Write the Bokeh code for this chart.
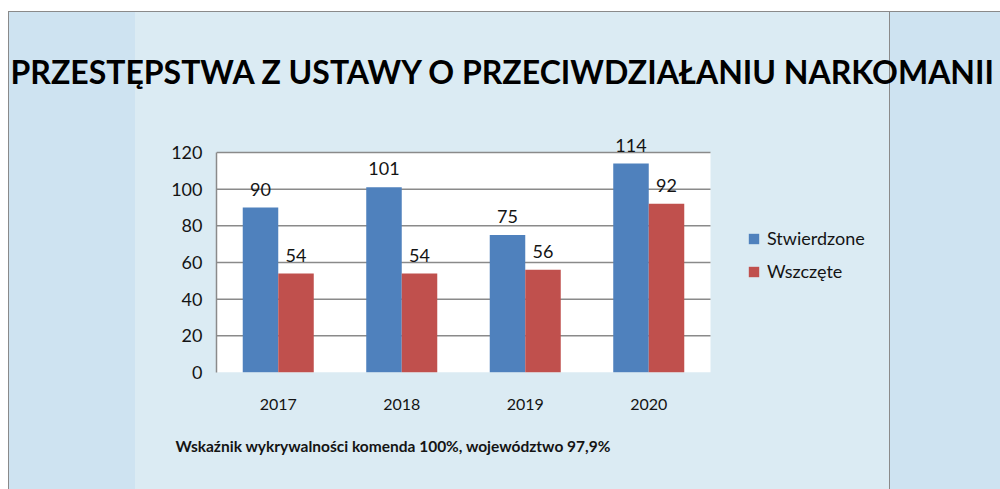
from bokeh.plotting import figure
from bokeh.models import (ColumnDataSource, Range1d, FixedTicker, LabelSet,
                          Legend, LegendItem, BoxAnnotation, Title)
from bokeh.core.properties import value
from bokeh.embed import file_html
from bokeh.resources import INLINE

# ---- data ----
years = ["2017", "2018", "2019", "2020"]
stwierdzone = [90, 101, 75, 114]
wszczete = [54, 54, 56, 92]
y_ticks = [0, 20, 40, 60, 80, 100, 120]
title_text = "PRZESTĘPSTWA Z USTAWY O PRZECIWDZIAŁANIU NARKOMANII"
footer_text = "Wskaźnik wykrywalności komenda 100%, województwo 97,9%"
series_names = ["Stwierdzone", "Wszczęte"]

FONT = "Lato"
BLUE = "#4f81bd"
RED = "#c0504d"
MID_BG = "#dbebf3"
SIDE_BG = "#cee3f1"
GRAY = "#8a8a8a"
TXT = "#141414"

W, H = 1000, 489
FL, FR, FT, FB = 216, 885, 96, 372      # plotting frame in page pixels
CAT_PX = 123.5                           # width of one year slot
PX_PER_UNIT = 220 / 120                  # 0..120 spans 220 px

n = len(years)
centers = [i + 0.5 for i in range(n)]
bw = 0.2875
src = ColumnDataSource(dict(
    xs=[c - bw / 2 for c in centers], xw=[c + bw / 2 for c in centers],
    s=stwierdzone, w=wszczete,
    s_lab=[str(v) for v in stwierdzone], w_lab=[str(v) for v in wszczete]))

p = figure(x_range=Range1d(0, (FR - FL) / CAT_PX), y_range=Range1d(0, (FB - FT) / PX_PER_UNIT),
           width=W, height=H, output_backend="svg", toolbar_location=None,
           min_border_left=FL, min_border_right=W - FR,
           min_border_top=FT, min_border_bottom=H - FB)
p.border_fill_alpha = 0
p.background_fill_alpha = 0
p.outline_line_color = None
p.styles = {"background": (
    "linear-gradient(to right, #ffffff 0px, #ffffff 8px, transparent 8px), "
    f"linear-gradient(to bottom, #ffffff 0px, #ffffff 11px, {GRAY} 11px, {GRAY} 12.5px, transparent 12.5px), "
    f"linear-gradient(to right, {GRAY} 8px, {GRAY} 9px, {SIDE_BG} 9px, {SIDE_BG} 135px, "
    f"{MID_BG} 135px, {MID_BG} 889px, {GRAY} 889px, {GRAY} 890px, {SIDE_BG} 890px)")}

# white plot area: categories 0..n, values 0..top tick
p.add_layout(BoxAnnotation(left=0, right=n, bottom=0, top=y_ticks[-1], fill_color="white",
                           fill_alpha=1, line_color=None, level="underlay"))

# horizontal gridlines across the category area only
grid_vals = y_ticks[1:]
p.segment(x0=[0] * len(grid_vals), x1=[n] * len(grid_vals),
          y0=grid_vals, y1=grid_vals, line_color=GRAY, line_width=1.5)

r1 = p.vbar(x="xs", top="s", width=bw, source=src, fill_color=BLUE, line_color=None)
r2 = p.vbar(x="xw", top="w", width=bw, source=src, fill_color=RED, line_color=None)

for xcol, col, lab in [("xs", "s", "s_lab"), ("xw", "w", "w_lab")]:
    p.add_layout(LabelSet(x=xcol, y=col, text=lab, source=src,
                          y_offset=12, text_align="center", text_baseline="alphabetic",
                          text_font=value(FONT), text_font_size=value("18px"),
                          text_color=TXT))

p.yaxis.ticker = FixedTicker(ticks=y_ticks)
p.yaxis.bounds = (y_ticks[0], y_ticks[-1])
p.yaxis.axis_line_color = GRAY
p.yaxis.axis_line_width = 1.5
p.yaxis.major_tick_line_color = None
p.yaxis.minor_tick_line_color = None
p.yaxis.major_label_text_font = FONT
p.yaxis.major_label_text_font_size = "18px"
p.yaxis.major_label_text_color = TXT
p.yaxis.major_label_standoff = 8

p.xaxis.ticker = FixedTicker(ticks=centers)
p.xaxis.major_label_overrides = {c: y for c, y in zip(centers, years)}
p.xaxis.axis_line_color = None
p.xaxis.major_tick_line_color = None
p.xaxis.minor_tick_line_color = None
p.xaxis.major_label_text_font = FONT
p.xaxis.major_label_text_font_size = "16px"
p.xaxis.major_label_text_color = TXT
p.xaxis.major_label_standoff = 20

p.xgrid.visible = False
p.ygrid.visible = False

legend = Legend(items=[LegendItem(label=series_names[0], renderers=[r1]),
                       LegendItem(label=series_names[1], renderers=[r2])],
                location=(747 - FL, 90), orientation="vertical",
                background_fill_alpha=0, border_line_color=None,
                label_text_font=FONT, label_text_font_size="18px", label_text_color=TXT,
                glyph_width=13, glyph_height=13, label_standoff=7, spacing=11,
                label_height=20, padding=0, margin=0)
p.add_layout(legend, "center")

# main title (above) and footer note (below)
p.title.text = title_text
p.title.align = "left"
p.title.offset = 10 - FL
p.title.standoff = 12
p.title.vertical_align = "bottom"
p.title.text_font = FONT
p.title.text_font_style = "bold"
p.title.text_font_size = "32px"
p.title.text_color = "#000000"

footer = Title(text=footer_text, align="left", offset=175 - FL, standoff=48,
               vertical_align="top", text_font=FONT, text_font_style="bold",
               text_font_size="15.5px", text_color=TXT)
p.add_layout(footer, "below")

open("out.html", "w").write(file_html(p, INLINE))
